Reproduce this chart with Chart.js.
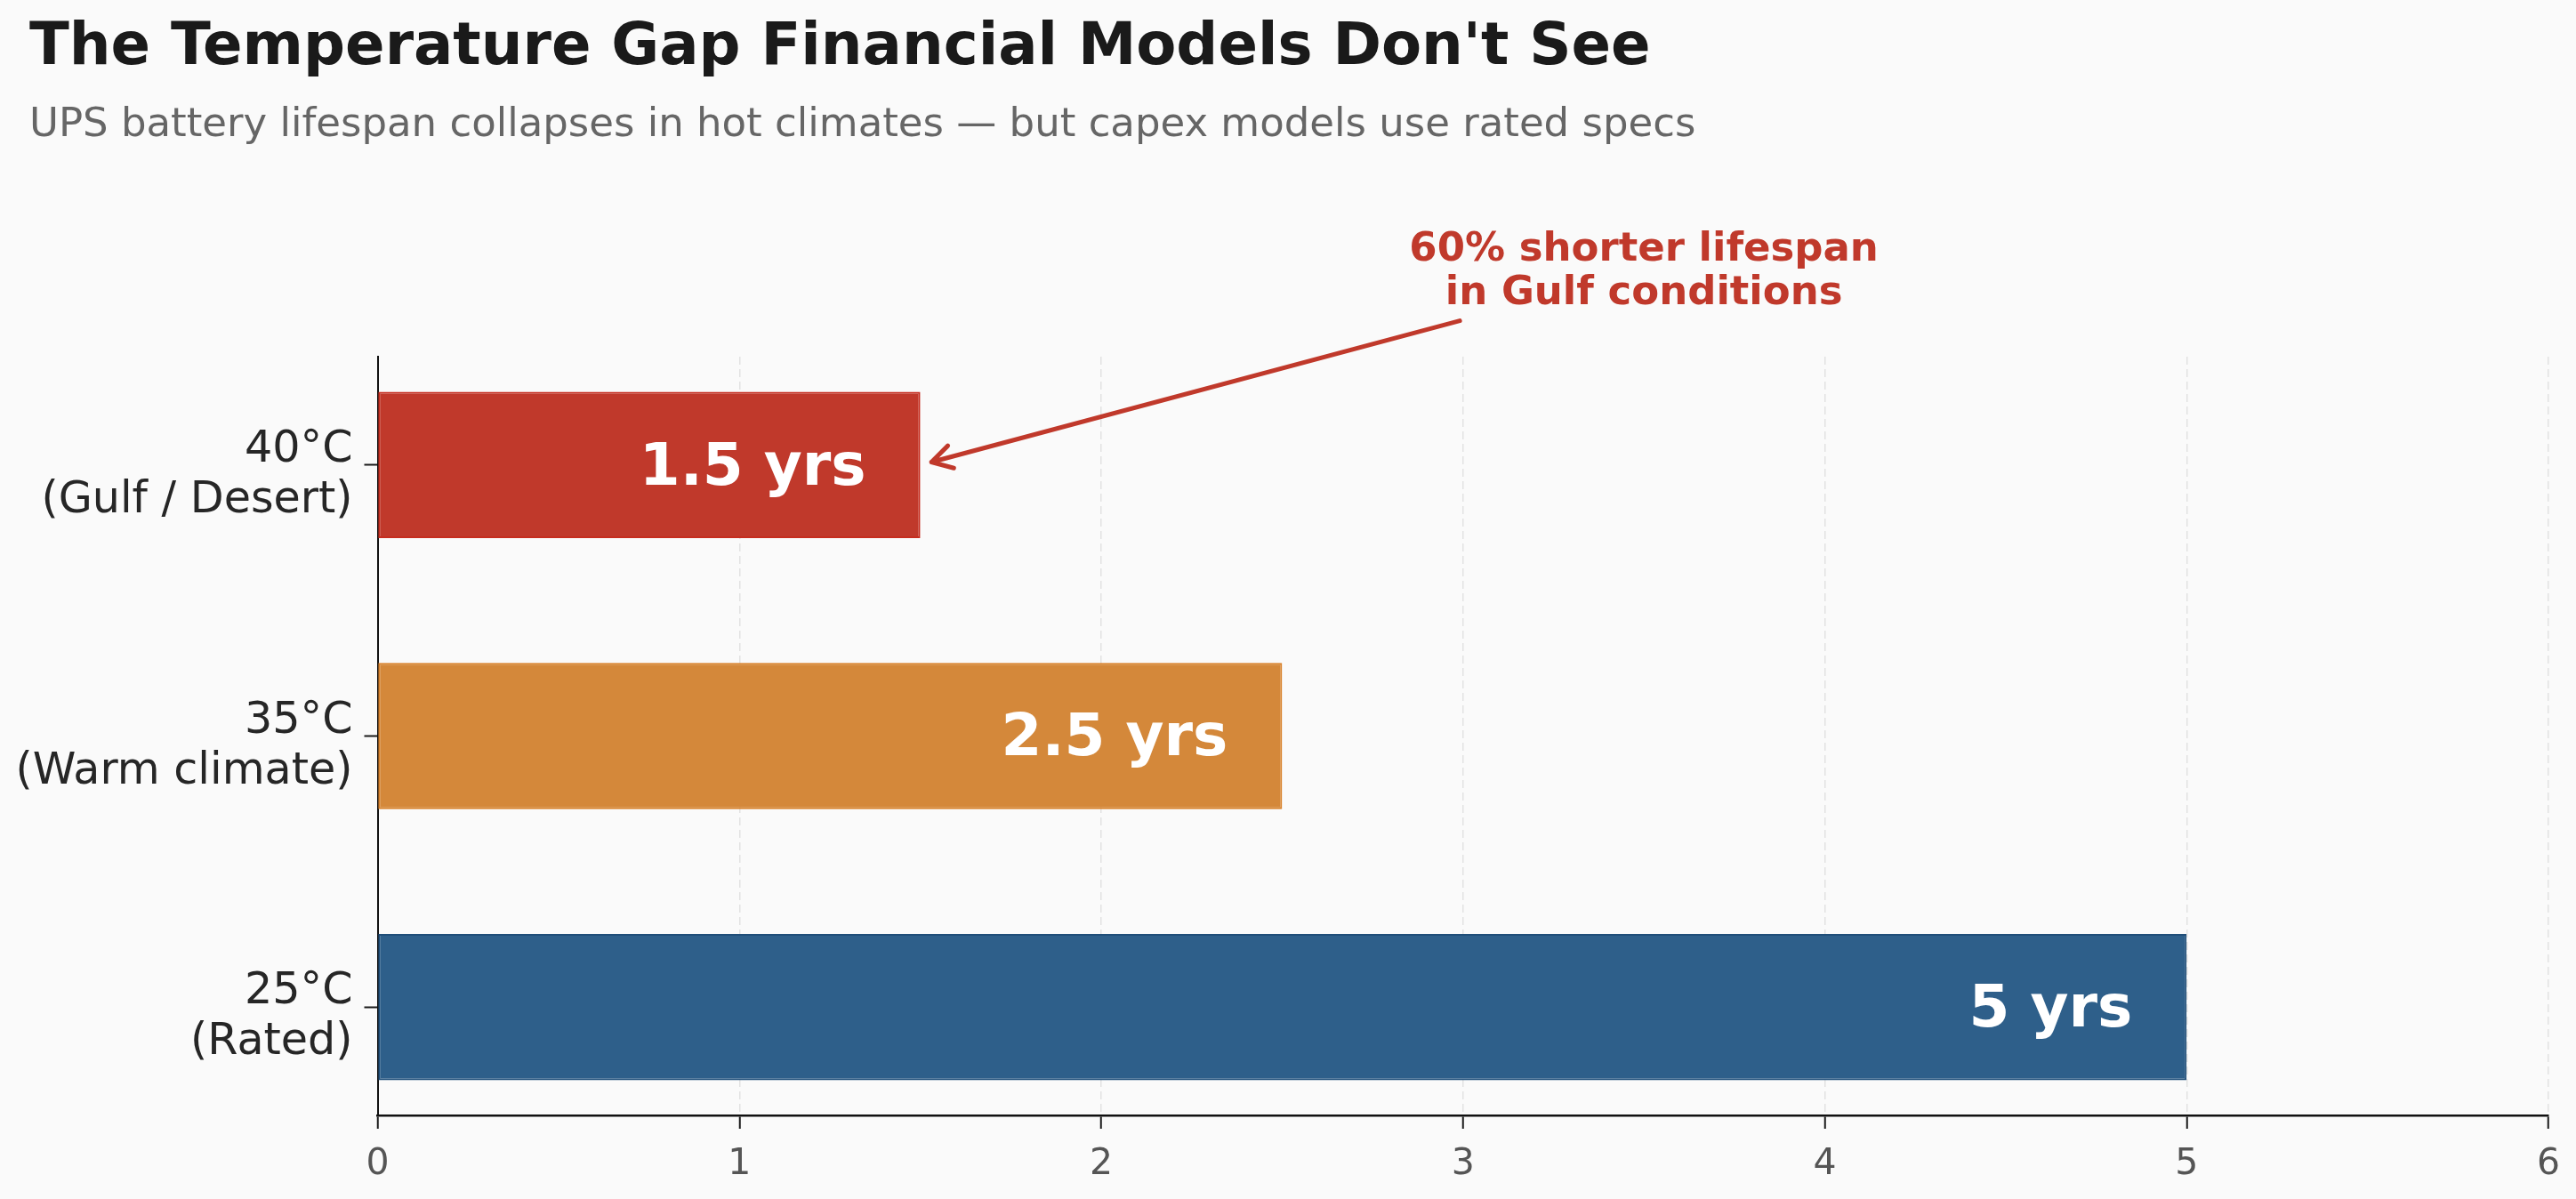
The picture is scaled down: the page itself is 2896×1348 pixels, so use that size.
<!DOCTYPE html>
<html>
<head>
<meta charset="utf-8">
<script src="https://cdn.jsdelivr.net/npm/chart.js@4.4.1/dist/chart.umd.min.js"></script>
<style>
html,body{margin:0;padding:0;background:#FAFAFA;overflow:hidden}
#wrap{position:relative;width:2896px;height:1348px}
canvas{display:block}
</style>
</head>
<body>
<div id="wrap"><canvas id="c" width="2896" height="1348"></canvas></div>
<script>
// ---- data ----
const categories = [["25°C", "(Rated)"], ["35°C", "(Warm climate)"], ["40°C", "(Gulf / Desert)"]];
const categoryIndex = [0, 1, 2];
const lifespanYears = [5, 2.5, 1.5];
const valueLabels = ["5 yrs", "2.5 yrs", "1.5 yrs"];
const xTickValues = [0, 1, 2, 3, 4, 5, 6];
const titleText = "The Temperature Gap Financial Models Don't See";
const subtitleText = "UPS battery lifespan collapses in hot climates — but capex models use rated specs";
const annotationLines = ["60% shorter lifespan", "in Gulf conditions"];
const annotationTarget = [1.5, 2];
const annotationTextAt = [3.5, 2.7];

// ---- styles ----
const barColors = ["#2E5F8A", "#D4883A", "#C0392B"];
const barEdgeColors = ["#1F4E79", "#D9822B", "#C62D1F"];
const FONT = "'DejaVu Sans', sans-serif";

const overlay = {
  id: 'overlay',
  afterDatasetsDraw(chart) {
    const ctx = chart.ctx, xs = chart.scales.x, ys = chart.scales.y;
    ctx.save();
    ctx.fillStyle = '#FFFFFF';
    ctx.font = `bold 66px ${FONT}`;
    ctx.textAlign = 'right';
    ctx.textBaseline = 'alphabetic';
    for (let i = 0; i < lifespanYears.length; i++) {
      const px = xs.getPixelForValue(lifespanYears[i] - 0.15);
      const py = ys.getPixelForValue(categoryIndex[i]);
      ctx.fillText(valueLabels[i], px, py + 0.33 * 66);
    }
    ctx.restore();
  },
  afterDraw(chart) {
    const ctx = chart.ctx, xs = chart.scales.x, ys = chart.scales.y;
    ctx.save();
    ctx.textAlign = 'left';
    ctx.textBaseline = 'alphabetic';
    ctx.fillStyle = '#1a1a1a';
    ctx.font = `bold 65.7px ${FONT}`;
    ctx.fillText(titleText, 33, 72);
    ctx.fillStyle = '#666666';
    ctx.font = `45px ${FONT}`;
    ctx.fillText(subtitleText, 33, 153);

    // annotation
    const tx = xs.getPixelForValue(annotationTextAt[0]);
    const ty = ys.getPixelForValue(annotationTextAt[1]);
    ctx.fillStyle = '#C0392B';
    ctx.font = `bold 45px ${FONT}`;
    ctx.textAlign = 'center';
    ctx.fillText(annotationLines[0], tx, ty - 17);
    ctx.fillText(annotationLines[1], tx, ty + 32);

    const hx0 = xs.getPixelForValue(annotationTarget[0]);
    const hy0 = ys.getPixelForValue(annotationTarget[1]);
    const sx = tx - 207, sy = ty + 51;
    const dx = sx - hx0, dy = sy - hy0, len = Math.hypot(dx, dy);
    const ux = dx / len, uy = dy / len;
    const hx = hx0 + ux * 13, hy = hy0 + uy * 13;
    ctx.strokeStyle = '#C0392B';
    ctx.lineWidth = 5;
    ctx.lineCap = 'round';
    ctx.lineJoin = 'round';
    ctx.beginPath();
    ctx.moveTo(sx, sy);
    ctx.lineTo(hx, hy);
    const ang = Math.atan2(uy, ux), a = 30 * Math.PI / 180, L = 26;
    ctx.moveTo(hx + L * Math.cos(ang + a), hy + L * Math.sin(ang + a));
    ctx.lineTo(hx, hy);
    ctx.lineTo(hx + L * Math.cos(ang - a), hy + L * Math.sin(ang - a));
    ctx.stroke();
    ctx.restore();
  }
};

new Chart(document.getElementById('c'), {
  type: 'bar',
  data: {
    datasets: [{
      data: lifespanYears.map((v, i) => ({ x: v, y: categoryIndex[i] })),
      backgroundColor: barColors,
      borderColor: barEdgeColors,
      borderWidth: 2,
      borderSkipped: false,
      barPercentage: 0.54,
      categoryPercentage: 1.0
    }]
  },
  options: {
    indexAxis: 'y',
    responsive: false,
    devicePixelRatio: 1,
    animation: false,
    events: [],
    layout: { padding: { top: 401, right: 31, bottom: 0, left: 0 } },
    plugins: { legend: { display: false }, tooltip: { enabled: false }, title: { display: false } },
    scales: {
      x: {
        type: 'linear',
        min: 0, max: 6,
        offset: false,
        afterBuildTicks: s => { s.ticks = xTickValues.map(v => ({ value: v })); },
        afterFit: s => { s.height = 94; },
        ticks: { color: '#555555', font: { family: FONT, size: 41 }, padding: 16 },
        grid: { offset: false, color: '#E2E2E2', lineWidth: 1.5, tickColor: '#1a1a1a', tickLength: 15, tickWidth: 2, tickBorderDash: [] },
        border: { color: '#111111', width: 2.5, dash: [9, 5] }
      },
      y: {
        type: 'linear',
        min: -0.4, max: 2.4,
        offset: false,
        afterBuildTicks: s => { s.ticks = categoryIndex.map(v => ({ value: v })); },
        afterFit: s => { s.width = 424.5; },
        ticks: {
          color: '#262626',
          font: { family: FONT, size: 49.2, lineHeight: 1.16 },
          padding: 13,
          labelOffset: 12,
          callback: v => categories[categoryIndex.indexOf(v)] || ''
        },
        grid: { offset: false, drawOnChartArea: false, tickColor: '#1a1a1a', tickLength: 15, tickWidth: 2 },
        border: { color: '#111111', width: 2 }
      }
    }
  },
  plugins: [overlay]
});
</script>
</body>
</html>
